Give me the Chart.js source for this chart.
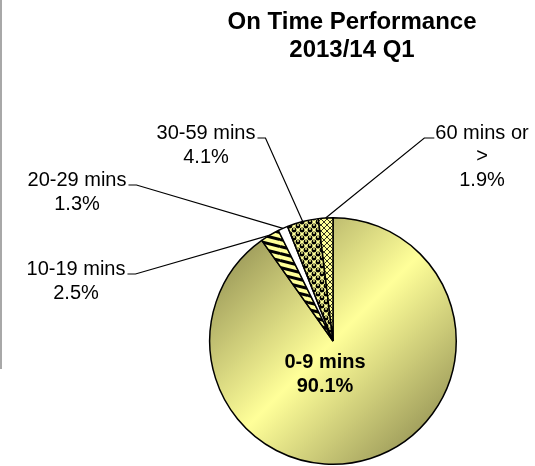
<!DOCTYPE html>
<html>
<head>
<meta charset="utf-8">
<script src="https://cdn.jsdelivr.net/npm/chart.js@4/dist/chart.umd.min.js"></script>
<style>
  html, body { margin: 0; padding: 0; background: #fff; overflow: hidden; }
  #wrap { position: relative; width: 535px; height: 466px; }
  #edge { position: absolute; left: 0; top: 0; width: 2px; height: 369px; background: #a8a8a8; }
</style>
</head>
<body>
<div id="wrap">
  <canvas id="pieChart" width="535" height="466"></canvas>
  <div id="edge"></div>
</div>
<script>
const categories = ['0-9 mins', '10-19 mins', '20-29 mins', '30-59 mins', '60 mins or >'];
const shares = [90.1, 2.5, 1.3, 4.1, 1.9];
const titleLines = ['On Time Performance', '2013/14 Q1'];

// where each data label sits: text centre x, first line y, side of the leader
const labelSpots = [
    { x: 325, y: 362, inside: true },
    { x: 76, y: 269, side: 'left' },
    { x: 77, y: 180, side: 'left' },
    { x: 206, y: 133, side: 'left' },
    { x: 482, y: 133, side: 'right' }
];

const FONT = '"Liberation Sans", Arial, sans-serif';
const YELLOW = '#ffff99';

function tile(w, h, draw) {
    const c = document.createElement('canvas');
    c.width = w;
    c.height = h;
    const g = c.getContext('2d');
    g.fillStyle = YELLOW;
    g.fillRect(0, 0, w, h);
    draw(g);
    return g.createPattern(c, 'repeat');
}

const stripes = tile(28, 7, g => {
    g.strokeStyle = '#000';
    g.lineWidth = 3;
    for (let k = -7; k <= 7; k += 7) {
        g.beginPath();
        g.moveTo(0, k + 1.5);
        g.lineTo(28, k + 8.5);
        g.stroke();
    }
});

const spheres = tile(8, 8, g => {
    [[2, 2], [6, 6], [-2, 6], [10, 2], [6, -2], [2, 10]].forEach(([x, y]) => {
        g.fillStyle = '#000';
        g.beginPath();
        g.arc(x, y, 2.4, 0, Math.PI * 2);
        g.fill();
        g.fillStyle = YELLOW;
        g.beginPath();
        g.arc(x, y - 1, 0.9, 0, Math.PI * 2);
        g.fill();
    });
});

const crosshatch = tile(6, 6, g => {
    g.strokeStyle = '#000';
    g.lineWidth = 0.8;
    g.beginPath();
    g.moveTo(0, 0); g.lineTo(6, 6);
    g.moveTo(6, 0); g.lineTo(0, 6);
    g.stroke();
});

function shadedYellow(chart) {
    const a = chart.chartArea;
    if (!a) return YELLOW;
    const cx = (a.left + a.right) / 2, cy = (a.top + a.bottom) / 2;
    const d = Math.min(a.width, a.height) / 2 * 0.707;
    const g = chart.ctx.createLinearGradient(cx - d, cy - d, cx + d, cy + d);
    g.addColorStop(0, '#a3a15e');
    g.addColorStop(0.5, YELLOW);
    g.addColorStop(1, '#a3a15e');
    return g;
}

function sliceFill(context) {
    const fills = [null, stripes, '#ffffff', spheres, crosshatch];
    if (context.dataIndex === 0) return shadedYellow(context.chart);
    return fills[context.dataIndex];
}

function wrapText(ctx, text, maxWidth) {
    const words = text.split(' ');
    const lines = [];
    let cur = '';
    words.forEach(w => {
        const test = cur ? cur + ' ' + w : w;
        if (cur && ctx.measureText(test).width > maxWidth) {
            lines.push(cur);
            cur = w;
        } else {
            cur = test;
        }
    });
    lines.push(cur);
    return lines;
}

const labelsPlugin = {
    id: 'pieLabels',
    afterDatasetsDraw(chart) {
        const ctx = chart.ctx;
        const arcs = chart.getDatasetMeta(0).data;
        ctx.save();
        ctx.fillStyle = '#000';
        ctx.textAlign = 'center';
        ctx.textBaseline = 'middle';

        // title
        ctx.font = 'bold 24px ' + FONT;
        titleLines.forEach((t, i) => ctx.fillText(t, 352, 22 + i * 28));

        arcs.forEach((arc, i) => {
            const spot = labelSpots[i];
            ctx.font = (spot.inside ? 'bold ' : '') + '20px ' + FONT;
            const lines = wrapText(ctx, categories[i], 105);
            lines.push(shares[i].toFixed(1) + '%');
            const lh = spot.side === 'right' ? 23.5 : 24;
            let w = 0;
            lines.forEach((l, j) => {
                w = Math.max(w, ctx.measureText(l).width);
                ctx.fillText(l, spot.x, spot.y + j * lh);
            });
            if (spot.inside) return;

            const p = arc.getProps(['x', 'y', 'startAngle', 'endAngle', 'outerRadius']);
            const mid = (p.startAngle + p.endAngle) / 2;
            const ex = p.x + Math.cos(mid) * p.outerRadius;
            const ey = p.y + Math.sin(mid) * p.outerRadius;
            const ly = spot.y + 5;
            let x0, x1;
            if (spot.side === 'left') {
                x0 = spot.x + w / 2 + 2;
                x1 = x0 + 8;
            } else {
                x0 = spot.x - w / 2 - 1;
                x1 = x0 - 10;
            }
            ctx.strokeStyle = '#000';
            ctx.lineWidth = 1.2;
            ctx.beginPath();
            ctx.moveTo(x0, ly);
            ctx.lineTo(x1, ly);
            ctx.lineTo(ex, ey);
            ctx.stroke();
        });
        ctx.restore();
    }
};

const pieChart = new Chart(document.getElementById('pieChart').getContext('2d'), {
    type: 'pie',
    data: {
        labels: categories,
        datasets: [{
            data: shares,
            backgroundColor: sliceFill,
            borderColor: '#000',
            borderWidth: 1.5,
            hoverOffset: 0
        }]
    },
    options: {
        responsive: false,
        animation: false,
        events: [],
        layout: {
            padding: { left: 209, right: 78, top: 217, bottom: 1 }
        },
        plugins: {
            legend: { display: false },
            tooltip: { enabled: false },
            title: { display: false }
        }
    },
    plugins: [labelsPlugin]
});
</script>
</body>
</html>
